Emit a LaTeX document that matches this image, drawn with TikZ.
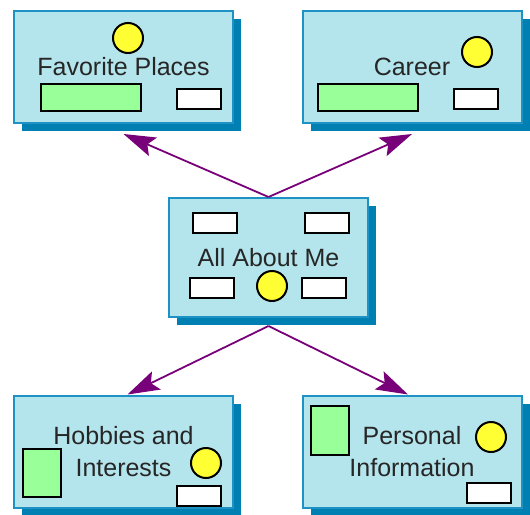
\documentclass[tikz,border=0pt]{standalone}
\usepackage{fontspec}
\setmainfont{Liberation Sans}
\usetikzlibrary{arrows.meta, shadows}
\definecolor{topicfill}{RGB}{180,228,236}
\definecolor{topicline}{RGB}{30,146,196}
\definecolor{topicshade}{RGB}{0,128,178}
\definecolor{knobyellow}{RGB}{255,255,51}
\definecolor{bargreen}{RGB}{153,255,153}
\definecolor{linkpurple}{RGB}{120,0,120}

\begin{document}
\begin{tikzpicture}[x=1pt, y=-1pt,
	topic/.style={rectangle, draw=topicline, line width=2pt, fill=topicfill,
		minimum width=219pt, minimum height=112pt, inner sep=0pt, align=center,
		font=\fontsize{25}{32}\selectfont, text=black!85,
		drop shadow={shadow xshift=8pt, shadow yshift=-8pt, fill=topicshade, opacity=1}},
	knob/.style={circle, draw=black, line width=2pt, fill=knobyellow,
		minimum size=30pt, inner sep=0pt},
	greenbar/.style={rectangle, draw=black, line width=2pt, fill=bargreen, inner sep=0pt},
	whitetag/.style={rectangle, draw=black, line width=2pt, fill=white,
		minimum width=44pt, minimum height=20pt, inner sep=0pt},
	link/.style={-{Stealth[length=32pt, width=20pt, inset=6pt]}, draw=linkpurple, line width=1.8pt}
	]
	\useasboundingbox (0,0) rectangle (530,514);
	
	% Top row
	\node[topic] (fav) at (123.5,67) {Favorite Places};
	\node[topic] (car) at (412,67) {Career};
	
	% Centre
	\node[topic, minimum width=199pt, minimum height=119pt] (mid) at (268.5,257.5) {All About Me};
	
	% Bottom row
	\node[topic] (hob) at (123.5,451.5) {Hobbies and\\Interests};
	\node[topic] (per) at (412,451.5) {Personal\\Information};
	
	% Items inside the boxes
	\node[knob] (favknob) at (128,38) {};
	\node[greenbar, minimum width=100pt, minimum height=27pt] (favbar) at (91,97.5) {};
	\node[whitetag] (favtag) at (199,99) {};
	
	\node[knob] (carknob) at (477,52) {};
	\node[greenbar, minimum width=100pt, minimum height=27pt] (carbar) at (368,97.5) {};
	\node[whitetag] (cartag) at (476,98.5) {};
	
	\node[whitetag] (midtagA) at (215,223) {};
	\node[whitetag] (midtagB) at (327,223) {};
	\node[whitetag] (midtagC) at (211.5,287.5) {};
	\node[whitetag] (midtagD) at (324,287.5) {};
	\node[knob] (midknob) at (272,286) {};
	
	\node[greenbar, minimum width=38pt, minimum height=48pt] (hobbar) at (42,473) {};
	\node[knob] (hobknob) at (206,463) {};
	\node[whitetag] (hobtag) at (199,496) {};
	
	\node[greenbar, minimum width=38pt, minimum height=49pt] (perbar) at (330,430.5) {};
	\node[knob] (perknob) at (491,437) {};
	\node[whitetag] (pertag) at (489,492.5) {};
	
	% Links
	\draw[link] (mid.north) -- ([yshift=-10pt]fav.south);
	\draw[link] (mid.north) -- ([yshift=-10pt]car.south);
	\draw[link] ([yshift=-8pt]mid.south) -- ([xshift=4pt]hob.north);
	\draw[link] ([yshift=-8pt]mid.south) -- ([xshift=-4pt]per.north);
	
\end{tikzpicture}
\end{document}
